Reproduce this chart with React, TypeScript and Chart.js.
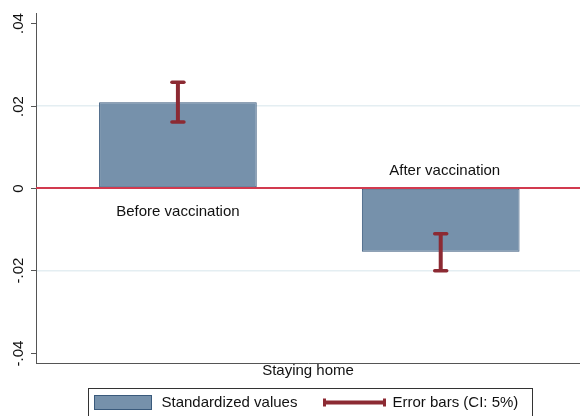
import React, { useEffect, useRef } from "react";
import { Chart, registerables } from "chart.js";

Chart.register(...registerables);

const CATEGORIES = ["Before vaccination", "After vaccination"];
const CATEGORY_POS = [0, 1];
const VALUES = [0.0208, -0.0155];
const CI_LOWER = [0.016, -0.0201];
const CI_UPPER = [0.0257, -0.0111];
const X_RANGE = [-0.54, 1.53];
const Y_TICKS = [-0.04, -0.02, 0, 0.02, 0.04];
const Y_TICK_LABELS = ["-.04", "-.02", "0", ".02", ".04"];
const X_TITLE = "Staying home";
const LEGEND_BAR = "Standardized values";
const LEGEND_ERR = "Error bars (CI: 5%)";

const FONT = "15px 'Liberation Sans', Arial, sans-serif";
const BAR_FILL = "#7691ab";
const BAR_EDGE = "#3a5a7c";
const ERR_COLOR = "#8c2a33";
const ZERO_COLOR = "#d23a4f";
const AXIS_COLOR = "#555555";

const decorPlugin = {
  id: "decor",
  beforeDatasetsDraw(chart: any) {
    const ctx = chart.ctx;
    const area = chart.chartArea;
    const y = chart.scales.y;
    ctx.save();
    ctx.strokeStyle = AXIS_COLOR;
    ctx.lineWidth = 1;
    ctx.fillStyle = "#111";
    ctx.font = FONT;
    ctx.textAlign = "center";
    ctx.textBaseline = "middle";
    Y_TICKS.forEach((v, i) => {
      const py = Math.round(y.getPixelForValue(v)) + 0.5;
      ctx.beginPath();
      ctx.moveTo(area.left - 5, py);
      ctx.lineTo(area.left, py);
      ctx.stroke();
      ctx.save();
      ctx.translate(area.left - 17, py);
      ctx.rotate(-Math.PI / 2);
      ctx.fillText(Y_TICK_LABELS[i], 0, 0);
      ctx.restore();
    });
    ctx.fillText(X_TITLE, (area.left + area.right) / 2, area.bottom + 8);
    ctx.restore();
  },
  afterDatasetsDraw(chart: any) {
    const ctx = chart.ctx;
    const area = chart.chartArea;
    const y = chart.scales.y;
    const meta = chart.getDatasetMeta(0);
    const y0 = y.getPixelForValue(0);
    ctx.save();
    ctx.strokeStyle = ZERO_COLOR;
    ctx.lineWidth = 2;
    ctx.beginPath();
    ctx.moveTo(area.left, y0);
    ctx.lineTo(area.right, y0);
    ctx.stroke();
    ctx.strokeStyle = ERR_COLOR;
    meta.data.forEach((bar: any, i: number) => {
      const x = bar.x;
      const yl = y.getPixelForValue(CI_LOWER[i]);
      const yu = y.getPixelForValue(CI_UPPER[i]);
      ctx.lineWidth = 4;
      ctx.lineCap = "butt";
      ctx.beginPath();
      ctx.moveTo(x, yl);
      ctx.lineTo(x, yu);
      ctx.stroke();
      ctx.lineCap = "round";
      ctx.lineWidth = 3.5;
      [yl, yu].forEach((cy) => {
        ctx.beginPath();
        ctx.moveTo(x - 6, cy);
        ctx.lineTo(x + 6, cy);
        ctx.stroke();
      });
    });
    ctx.fillStyle = "#111";
    ctx.font = FONT;
    ctx.textAlign = "center";
    ctx.textBaseline = "middle";
    meta.data.forEach((bar: any, i: number) => {
      const ty = VALUES[i] >= 0 ? y0 + 24 : y0 - 17;
      ctx.fillText(CATEGORIES[i], bar.x + (VALUES[i] >= 0 ? 0 : 4), ty);
    });
    const lx = 88.5;
    const ly = area.bottom + 25.5;
    ctx.strokeStyle = "#333";
    ctx.lineWidth = 1;
    ctx.strokeRect(lx, ly, 444, 40);
    ctx.fillStyle = BAR_FILL;
    ctx.fillRect(lx + 6, ly + 7, 57, 14);
    ctx.strokeStyle = BAR_EDGE;
    ctx.strokeRect(lx + 6, ly + 7, 57, 14);
    ctx.fillStyle = "#111";
    ctx.textAlign = "left";
    ctx.fillText(LEGEND_BAR, lx + 73, ly + 14);
    ctx.strokeStyle = ERR_COLOR;
    ctx.lineWidth = 4;
    ctx.lineCap = "butt";
    ctx.beginPath();
    ctx.moveTo(lx + 236, ly + 14);
    ctx.lineTo(lx + 296, ly + 14);
    ctx.stroke();
    ctx.lineWidth = 3;
    [lx + 236, lx + 296].forEach((cx) => {
      ctx.beginPath();
      ctx.moveTo(cx, ly + 10);
      ctx.lineTo(cx, ly + 18);
      ctx.stroke();
    });
    ctx.fillText(LEGEND_ERR, lx + 304, ly + 14);
    ctx.restore();
  },
};

export default function App() {
  const ref = useRef<HTMLCanvasElement>(null);
  useEffect(() => {
    if (!ref.current) return;
    const chart = new Chart(ref.current, {
      type: "bar",
      data: {
        datasets: [
          {
            label: LEGEND_BAR,
            data: VALUES.map((v, i) => ({ x: CATEGORY_POS[i], y: v })),
            backgroundColor: BAR_FILL,
            borderColor: BAR_EDGE,
            borderWidth: 1,
            borderSkipped: false,
            categoryPercentage: 1,
            barPercentage: 1.2,
          },
        ],
      },
      options: {
        responsive: false,
        animation: false,
        layout: { padding: { left: 36, top: 13, right: 0, bottom: 53 } },
        plugins: { legend: { display: false }, tooltip: { enabled: false } },
        scales: {
          x: {
            type: "linear",
            min: X_RANGE[0],
            max: X_RANGE[1],
            offset: false,
            ticks: { display: false },
            grid: { display: false, drawTicks: false },
            border: { display: true, color: AXIS_COLOR, width: 1 },
          },
          y: {
            type: "linear",
            min: -0.0425,
            max: 0.0425,
            afterBuildTicks: (scale: any) => {
              scale.ticks = Y_TICKS.map((v) => ({ value: v }));
            },
            ticks: { display: false },
            grid: {
              drawTicks: false,
              lineWidth: 1.5,
              color: (c: any) =>
                Math.abs(Math.abs(c.tick?.value ?? 0) - 0.02) < 1e-6 ? "#e4eef2" : "rgba(0,0,0,0)",
            },
            border: { display: true, color: AXIS_COLOR, width: 1 },
          },
        },
      },
      plugins: [decorPlugin],
    });
    return () => chart.destroy();
  }, []);
  return (
    <div style={{ position: "absolute", left: 0, top: 0, width: 580, height: 416, background: "#fff" }}>
      <canvas ref={ref} width={580} height={416} style={{ display: "block" }} />
    </div>
  );
}
